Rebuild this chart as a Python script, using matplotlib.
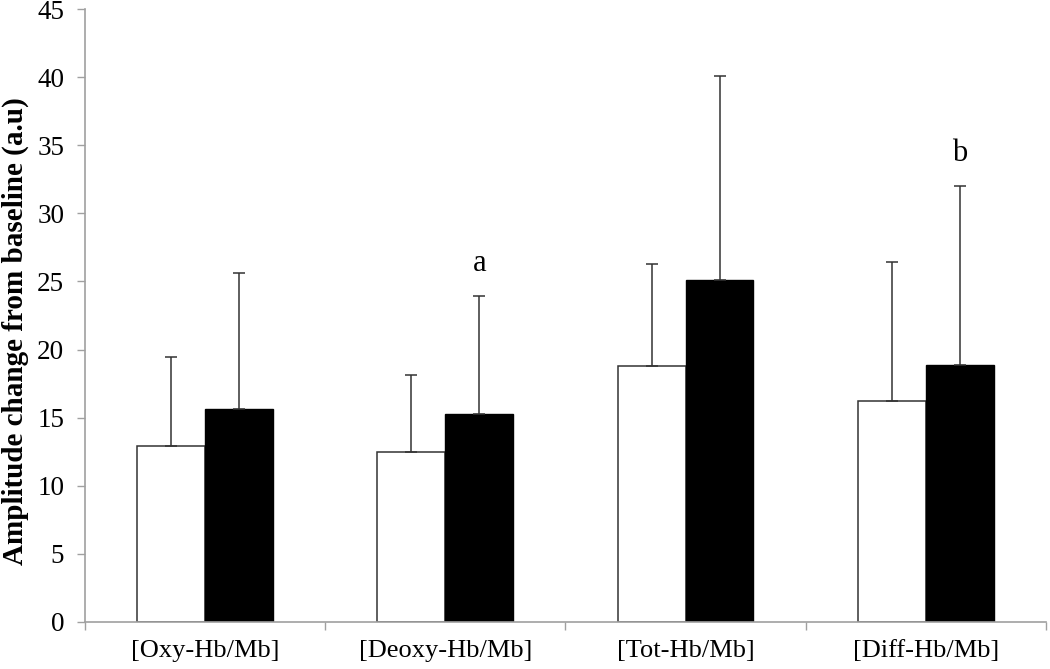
import matplotlib
matplotlib.use("Agg")
import matplotlib.pyplot as plt
import numpy as np

categories = ["[Oxy-Hb/Mb]", "[Deoxy-Hb/Mb]", "[Tot-Hb/Mb]", "[Diff-Hb/Mb]"]
white_vals = [12.9, 12.5, 18.8, 16.2]
white_err = [6.55, 5.6, 7.5, 10.2]
black_vals = [15.6, 15.3, 25.1, 18.9]
black_err = [10.0, 8.6, 15.0, 13.1]
annotations = {1: "a", 3: "b"}
yticks = list(range(0, 50, 5))

plt.rcParams['font.family'] = ['Liberation Serif', 'DejaVu Serif']

fig = plt.figure(figsize=(10.5, 6.69), dpi=100)
ax = fig.add_axes([0.081, 0.0703, 0.915, 0.9162])

x = np.arange(len(categories))
w = 0.283
ax.bar(x - w / 2, white_vals, w, color="white", edgecolor="#333333", linewidth=1.1,
       yerr=[np.zeros(len(white_err)), white_err], capsize=4.5,
       error_kw=dict(ecolor="#333333", elinewidth=1.1, capthick=1.1), zorder=2)
ax.bar(x + w / 2, black_vals, w, color="black", edgecolor="black", linewidth=1.0,
       yerr=[np.zeros(len(black_err)), black_err], capsize=4.5,
       error_kw=dict(ecolor="#333333", elinewidth=1.1, capthick=1.1), zorder=2)

for i, t in annotations.items():
    ax.text(x[i] + w / 2, black_vals[i] + black_err[i] + 1.85, t, ha="center", va="baseline",
            fontsize=22)

ax.set_xlim(-0.5, len(categories) - 0.5)
ax.set_ylim(0, 45)
ax.set_yticks(yticks)
ax.set_xticks(np.arange(len(categories) + 1) - 0.5, minor=False)
ax.set_xticklabels([])
ax.set_xticks(x, minor=True)
ax.set_xticklabels(categories, minor=True, fontsize=19)
ax.tick_params(axis="x", which="minor", length=0, pad=13)
ax.tick_params(axis="x", which="major", length=6, color="#a0a0a0", width=1)
ax.tick_params(axis="y", length=6, color="#a0a0a0", width=1, labelsize=19.5, pad=9)

for s in ["top", "right"]:
    ax.spines[s].set_visible(False)
for s in ["left", "bottom"]:
    ax.spines[s].set_color("#a0a0a0")
    ax.spines[s].set_linewidth(1.2)

ax.set_ylabel("Amplitude change from baseline (a.u)", fontsize=21, fontweight="bold")
ax.yaxis.set_label_coords(-0.058, 0.475)

fig.savefig("out.png", dpi=100)
